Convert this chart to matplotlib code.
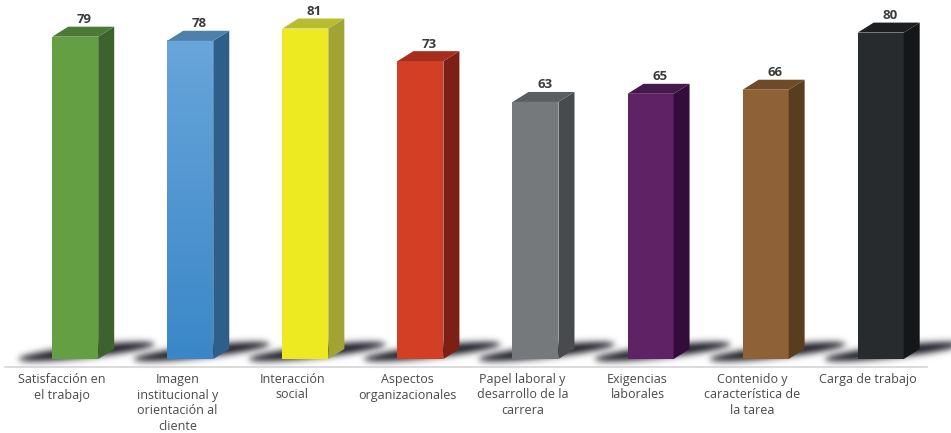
import numpy as np
from matplotlib import pyplot as plt
from matplotlib.patches import Polygon

# categorias e valores
categorias = ['Satisfacción en\nel trabajo',
              'Imagen\ninstitucional y\norientación al\ncliente',
              'Interacción\nsocial',
              'Aspectos\norganizacionales',
              'Papel laboral y\ndesarrollo de la\ncarrera',
              'Exigencias\nlaborales',
              'Contenido y\ncaracterística de\nla tarea',
              'Carga de trabajo']
valores = [79, 78, 81, 73, 63, 65, 66, 80]

# cores: frente, lado, topo
frente = ['#64a043', '#4e96d2', '#eeea22', '#d23f25', '#76797b', '#5e2265', '#8e6236', '#282b2e']
lado = ['#3e622e', '#2d5f8a', '#a0a432', '#7d1f14', '#474b4d', '#340c3c', '#5a3c1e', '#141618']
topo = ['#4a7a34', '#4f7fab', '#b8bc30', '#a52e1e', '#5a5e60', '#45184c', '#6f4a26', '#1c1e20']

PX = 115.07          # pixels por categoria
PY = 4.08            # pixels por unidade
x0, y0 = 75.2, 359.0  # centro da 1a barra / base (pixels)

fig = plt.figure(figsize=(9.51, 4.33), dpi=100)
ax = fig.add_axes([0, 0, 1, 1])
ax.set_xlim(-x0 / PX, (951 - x0) / PX)
ax.set_ylim(-(433 - y0) / PY, y0 / PY)
ax.axis('off')

hw = 23 / PX   # meia largura
dx = 16 / PX   # profundidade
dy = 10 / PY

def blur(a, s):
    k = np.exp(-0.5 * (np.arange(-3 * s, 3 * s + 1) / s) ** 2)
    k /= k.sum()
    a = np.apply_along_axis(lambda r: np.convolve(r, k, 'same'), 1, a)
    a = np.apply_along_axis(lambda c: np.convolve(c, k, 'same'), 0, a)
    return a

# sombra no chão, em pixels relativos ao centro da barra e à base
sx0, sx1 = -72, 98
sy0, sy1 = -34, 20       # positivo = para baixo
gx, gy = np.meshgrid(np.arange(sx0, sx1) + 0.5, np.arange(sy0, sy1) + 0.5)
xa, xb = -56, 80
u = np.clip((gx - (xa + xb) / 2) / ((xb - xa) / 2), -1, 1)
yc = 0.5 + (gx - xa) * (-15.0 / (xb - xa))
hh = 8.5 * np.sqrt(np.clip(1 - u ** 2, 0, 1))
m = np.clip(1.4 * (1 - np.abs(gy - yc) / np.maximum(hh, 1e-3)), 0, 1)
m[np.abs(u) >= 1] = 0
m = blur(m, 3.2)
m = np.clip(m * 1.1, 0, 0.92)
sombra = np.zeros(m.shape + (4,))
sombra[..., :3] = np.array([0x1e, 0x1e, 0x28]) / 255
sombra[..., 3] = m

for i, v in enumerate(valores):
    xl, xr = i - hw, i + hw
    # sombra
    ax.imshow(sombra, extent=[i + sx0 / PX, i + sx1 / PX, -sy1 / PY, -sy0 / PY],
              origin='upper', aspect='auto', zorder=1, interpolation='bilinear')
    # frente
    if i == 1:
        grad = np.linspace(0, 1, 100).reshape(-1, 1)
        c1 = np.array([0x68, 0xa5, 0xda]) / 255
        c2 = np.array([0x3a, 0x87, 0xc8]) / 255
        img = c1 + (c2 - c1) * grad[..., None]
        ax.imshow(img, extent=[xl, xr, 0, v], origin='upper', aspect='auto', zorder=3)
    else:
        ax.add_patch(Polygon([(xl, 0), (xr, 0), (xr, v), (xl, v)], closed=True,
                             facecolor=frente[i], edgecolor='none', zorder=3))
    # lado
    ax.add_patch(Polygon([(xr, 0), (xr + dx, dy), (xr + dx, v + dy), (xr, v)], closed=True,
                         facecolor=lado[i], edgecolor='none', zorder=3))
    # topo
    ax.add_patch(Polygon([(xl, v), (xr, v), (xr + dx, v + dy), (xl + dx, v + dy)], closed=True,
                         facecolor=topo[i], edgecolor='none', zorder=3))
    # valor
    ax.text(i + dx / 2 + 0.01, v + dy + 7 / PY, str(v), ha='center', va='center',
            fontsize=9.5, fontweight='bold', color='#3a3a3a', family='Open Sans', zorder=4)
    # rótulo
    ax.text(i - 13 / PX, -(373 - y0) / PY, categorias[i], ha='center', va='top',
            fontsize=9, color='#4a4a4a', family='Open Sans', linespacing=1.25, zorder=4)

# linha do eixo
ax.plot([(5 - x0) / PX, (927 - x0) / PX], [-(367 - y0) / PY] * 2, color='#d4d4d4', lw=1.2, zorder=2)

plt.savefig('out.png', dpi=100)
